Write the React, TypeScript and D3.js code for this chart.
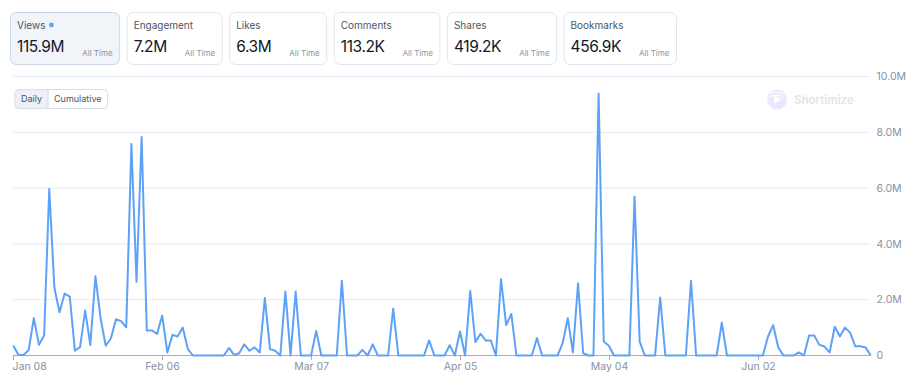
import { useEffect, useRef } from 'react';
import * as d3 from 'd3';

const cardLabels = ['Views', 'Engagement', 'Likes', 'Comments', 'Shares', 'Bookmarks'];
const cardValues = ['115.9M', '7.2M', '6.3M', '113.2K', '419.2K', '456.9K'];
const cardPeriod = 'All Time';
const toggleLabels = ['Daily', 'Cumulative'];
const watermark = 'Shortimize';

// daily views in millions, one value per day starting at firstDay
const firstDay = '2025-01-08';
const dailyViews = [
  0.36, 0.02, 0.02, 0.2, 1.34, 0.38, 0.72, 5.97, 2.43, 1.55,
  2.22, 2.11, 0.17, 0.3, 1.61, 0.38, 2.84, 1.34, 0.35, 0.61,
  1.3, 1.23, 1.01, 7.58, 2.64, 7.83, 0.9, 0.9, 0.77, 1.43,
  0.11, 0.74, 0.68, 1.0, 0.23, 0, 0, 0, 0, 0,
  0, 0, 0.27, 0.02, 0.08, 0.4, 0.17, 0.29, 0.11, 2.06,
  0.23, 0.17, 0, 2.29, 0, 2.29, 0, 0, 0, 0.88,
  0, 0, 0, 0, 2.68, 0, 0, 0, 0.2, 0,
  0.4, 0, 0, 0, 1.68, 0, 0, 0, 0, 0,
  0, 0.54, 0, 0, 0, 0.37, 0, 0.86, 0, 2.31,
  0.48, 0.78, 0.54, 0.54, 0, 2.73, 1.09, 1.49, 0, 0,
  0, 0, 0.63, 0, 0, 0, 0, 0.44, 1.34, 0.11,
  2.59, 0.08, 0, 0, 9.39, 0.5, 0.35, 0, 0, 0,
  0, 5.69, 0.5, 0, 0, 0, 2.08, 0, 0, 0,
  0, 0, 2.68, 0, 0, 0, 0, 0, 1.18, 0,
  0, 0, 0, 0, 0, 0, 0, 0.68, 1.09, 0.29,
  0, 0, 0, 0.11, 0, 0.72, 0.72, 0.38, 0.32, 0.11,
  1.03, 0.68, 1.0, 0.82, 0.33, 0.33, 0.29, 0
];

const yTicks = [0, 2, 4, 6, 8, 10];
const yTickLabels = ['0', '2.0M', '4.0M', '6.0M', '8.0M', '10.0M'];
const xTickDays = ['2025-01-08', '2025-02-06', '2025-03-07', '2025-04-05', '2025-05-04', '2025-06-02'];
const xTickLabels = ['Jan 08', 'Feb 06', 'Mar 07', 'Apr 05', 'May 04', 'Jun 02'];

const FONT = 'Inter, "Noto Sans", sans-serif';

const App = (): JSX.Element => {
  const svgRef = useRef<SVGSVGElement>(null);

  useEffect(() => {
    const svg = d3.select(svgRef.current);
    svg.selectAll('*').remove();
    svg.attr('font-family', FONT);

    // summary cards
    let cx = 10;
    cardLabels.forEach((label, i) => {
      const g = svg.append('g');
      const selected = i === 0;
      const lab = g.append('text').attr('x', cx + 7).attr('y', 29).attr('font-size', 10).attr('fill', '#4b5563').text(label);
      const val = g
        .append('text')
        .attr('x', cx + 7)
        .attr('y', 52)
        .attr('font-size', 15.5)
        .attr('letter-spacing', -0.4)
        .attr('fill', '#111827')
        .text(cardValues[i]);
      const per = g.append('text').attr('y', 56).attr('font-size', 8).attr('fill', '#8b95a5').attr('text-anchor', 'end').text(cardPeriod);
      const vw = (val.node() as SVGTextElement).getComputedTextLength();
      const aw = (per.node() as SVGTextElement).getComputedTextLength();
      const w = 7 + vw + 18 + aw + 6.5;
      per.attr('x', cx + w - 6.5);
      g.insert('rect', ':first-child')
        .attr('x', cx + 0.5)
        .attr('y', 12.5)
        .attr('width', w)
        .attr('height', 52)
        .attr('rx', 6)
        .attr('fill', selected ? '#f1f4f9' : '#fff')
        .attr('stroke', selected ? '#cdd6e3' : '#e2e7ef');
      if (selected) {
        const lw = (lab.node() as SVGTextElement).getComputedTextLength();
        g.append('circle').attr('cx', cx + 7 + lw + 6).attr('cy', 25).attr('r', 2.4).attr('fill', '#5ea1f8');
      }
      cx += w + 7.5;
    });

    // Daily / Cumulative toggle
    const tg = svg.append('g');
    const tx = 15;
    const ty = 89.5;
    const th = 19;
    const t1 = tg.append('text').attr('font-size', 9).attr('fill', '#4b5563').attr('y', ty + 12.5).text(toggleLabels[0]);
    const t2 = tg.append('text').attr('font-size', 9).attr('fill', '#4b5563').attr('y', ty + 12.5).text(toggleLabels[1]);
    const w1 = (t1.node() as SVGTextElement).getComputedTextLength() + 12;
    const w2 = (t2.node() as SVGTextElement).getComputedTextLength() + 12;
    t1.attr('x', tx + 6);
    t2.attr('x', tx + w1 + 6);
    tg.insert('rect', ':first-child').attr('x', tx + w1 - 5).attr('y', ty).attr('width', 5).attr('height', th).attr('fill', '#edf1f7');
    tg.insert('rect', ':first-child').attr('x', tx).attr('y', ty).attr('width', w1).attr('height', th).attr('rx', 4).attr('fill', '#edf1f7');
    tg.append('rect')
      .attr('x', tx)
      .attr('y', ty)
      .attr('width', w1 + w2)
      .attr('height', th)
      .attr('rx', 4)
      .attr('fill', 'none')
      .attr('stroke', '#d8dee8');
    tg.append('line').attr('x1', tx + w1).attr('x2', tx + w1).attr('y1', ty).attr('y2', ty + th).attr('stroke', '#cfd7e3');

    // scales
    const parse = d3.utcParse('%Y-%m-%d');
    const start = parse(firstDay) as Date;
    const points = dailyViews.map((v, i) => ({ date: d3.utcDay.offset(start, i), value: v }));
    const x = d3.scaleUtc([start, points[points.length - 1].date], [13.3, 870.7]);
    const y = d3.scaleLinear([0, 10], [355.5, 76.5]);
    const left = 13;
    const right = 870;

    // watermark
    const wm = svg.append('g').attr('transform', 'translate(777,99.5)');
    wm.append('circle').attr('r', 10).attr('fill', '#ebe7fd');
    wm.append('path').attr('d', 'M-3,-4 L5,0 L-3,4 Z').attr('fill', '#fff');
    wm.append('path').attr('d', 'M-6,-6 Q0,-9 6,-5 M-7,-3 Q0,-6 7,-2').attr('stroke', '#fff').attr('stroke-width', 1).attr('fill', 'none');
    svg
      .append('text')
      .attr('x', 794)
      .attr('y', 103.5)
      .attr('font-size', 11.5)
      .attr('font-weight', 600)
      .attr('fill', '#e2e4ea')
      .text(watermark);

    // grid + y labels
    yTicks.forEach((t, i) => {
      svg
        .append('line')
        .attr('x1', left)
        .attr('x2', right)
        .attr('y1', y(t))
        .attr('y2', y(t))
        .attr('stroke', t === 0 ? '#a3adbe' : '#e5e9f1')
        .attr('stroke-width', 1);
      svg
        .append('text')
        .attr('x', 876.5)
        .attr('y', y(t))
        .attr('dy', '0.35em')
        .attr('font-size', 10.5)
        .attr('fill', '#8792a6')
        .text(yTickLabels[i]);
    });

    // x ticks
    xTickDays.forEach((d, i) => {
      const px = Math.round(x(parse(d) as Date)) + 0.5;
      svg.append('line').attr('x1', px).attr('x2', px).attr('y1', 356).attr('y2', 360).attr('stroke', '#a3adbe');
      svg
        .append('text')
        .attr('x', i === 0 ? left - 0.5 : px)
        .attr('y', 369.5)
        .attr('text-anchor', i === 0 ? 'start' : 'middle')
        .attr('font-size', 10.5)
        .attr('fill', '#8792a6')
        .text(xTickLabels[i]);
    });

    // views line
    const line = d3
      .line<{ date: Date; value: number }>()
      .x((d) => x(d.date))
      .y((d) => y(d.value));
    svg
      .append('path')
      .attr('d', line(points))
      .attr('fill', 'none')
      .attr('stroke', '#5ea1f8')
      .attr('stroke-width', 2)
      .attr('stroke-linejoin', 'round');
  }, []);

  return <svg ref={svgRef} width={916} height={384} style={{ position: 'absolute', left: 0, top: 0, background: '#fff' }} />;
};

export default App;
